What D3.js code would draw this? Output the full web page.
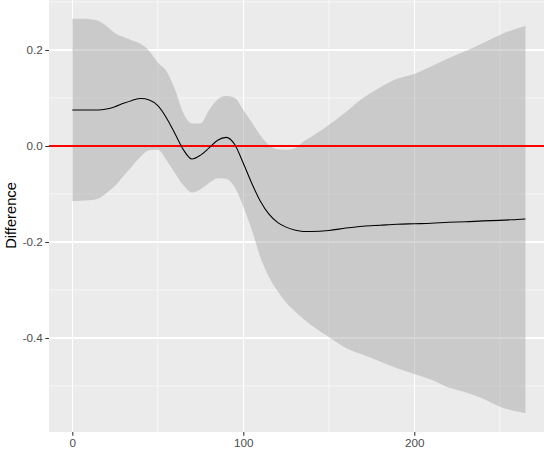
<!DOCTYPE html>
<html>
<head>
<meta charset="utf-8">
<script src="https://cdn.jsdelivr.net/npm/d3@7"></script>
<style>
  html, body { margin: 0; padding: 0; background: #ffffff; }
  svg { display: block; }
</style>
</head>
<body>
<svg id="chart" width="544" height="453"></svg>
<script>
// ---- Data ----
const xValues = [0,5,10,15,20,25,30,35,40,45,50,55,60,65,70,75,80,85,90,95,100,105,110,115,120,125,130,135,140,150,160,170,180,190,200,210,220,230,240,250,260,265];
const upperValues = [0.265,0.265,0.264,0.261,0.250,0.235,0.227,0.220,0.213,0.198,0.174,0.156,0.118,0.068,0.047,0.047,0.075,0.097,0.104,0.100,0.075,0.049,0.022,0.002,-0.007,-0.008,-0.005,0.009,0.020,0.044,0.071,0.100,0.122,0.140,0.150,0.166,0.183,0.198,0.214,0.231,0.245,0.250];
const lowerValues = [-0.115,-0.114,-0.113,-0.110,-0.098,-0.083,-0.062,-0.042,-0.022,-0.009,-0.008,-0.029,-0.056,-0.082,-0.097,-0.090,-0.077,-0.067,-0.068,-0.086,-0.126,-0.175,-0.232,-0.273,-0.302,-0.326,-0.344,-0.360,-0.374,-0.398,-0.421,-0.435,-0.449,-0.463,-0.475,-0.487,-0.503,-0.513,-0.526,-0.543,-0.553,-0.556];
const fitValues = [0.075,0.075,0.075,0.075,0.077,0.082,0.089,0.095,0.099,0.096,0.084,0.059,0.026,-0.008,-0.027,-0.019,-0.004,0.012,0.018,0.003,-0.036,-0.078,-0.115,-0.142,-0.159,-0.169,-0.175,-0.178,-0.178,-0.176,-0.171,-0.167,-0.165,-0.163,-0.162,-0.161,-0.159,-0.158,-0.156,-0.155,-0.153,-0.152];
const referenceLine = 0;

const xTickValues = [0, 100, 200];
const xTickLabels = ["0", "100", "200"];
const xMinorValues = [50, 150, 250];
const yTickValues = [-0.4, -0.2, 0, 0.2];
const yTickLabels = ["-0.4", "-0.2", "0.0", "0.2"];
const yMinorValues = [-0.5, -0.3, -0.1, 0.1, 0.3];
const yTitle = "Difference";

// ---- Layout ----
const panel = { left: 49, right: 544, top: -1, bottom: 432 };
const x = d3.scaleLinear().domain([0, 100]).range([72.3, 243.3]);
const y = d3.scaleLinear().domain([0, 0.2]).range([146, 50]);

const svg = d3.select("#chart");
const rows = xValues.map((v, i) => ({ x: v, lo: lowerValues[i], hi: upperValues[i], fit: fitValues[i] }));

svg.append("defs").append("clipPath").attr("id", "clip")
  .append("rect").attr("x", panel.left).attr("y", panel.top)
  .attr("width", panel.right - panel.left).attr("height", panel.bottom - panel.top);

// panel background
svg.append("rect")
  .attr("x", panel.left).attr("y", panel.top)
  .attr("width", panel.right - panel.left).attr("height", panel.bottom - panel.top)
  .attr("fill", "#EBEBEB");

const grid = svg.append("g").attr("clip-path", "url(#clip)");
// minor grid
grid.selectAll("line.xminor").data(xMinorValues).enter().append("line")
  .attr("x1", d => x(d)).attr("x2", d => x(d)).attr("y1", panel.top).attr("y2", panel.bottom)
  .attr("stroke", "#ffffff").attr("stroke-width", 0.6);
grid.selectAll("line.yminor").data(yMinorValues).enter().append("line")
  .attr("y1", d => y(d)).attr("y2", d => y(d)).attr("x1", panel.left).attr("x2", panel.right)
  .attr("stroke", "#ffffff").attr("stroke-width", 0.6);
// major grid
grid.selectAll("line.xmajor").data(xTickValues).enter().append("line")
  .attr("x1", d => x(d)).attr("x2", d => x(d)).attr("y1", panel.top).attr("y2", panel.bottom)
  .attr("stroke", "#ffffff").attr("stroke-width", 1.07).attr("shape-rendering", "crispEdges");
grid.selectAll("line.ymajor").data(yTickValues).enter().append("line")
  .attr("y1", d => y(d)).attr("y2", d => y(d)).attr("x1", panel.left).attr("x2", panel.right)
  .attr("stroke", "#ffffff").attr("stroke-width", 1.07).attr("shape-rendering", "crispEdges");

const plot = svg.append("g").attr("clip-path", "url(#clip)");

// ribbon
const area = d3.area()
  .x(d => x(d.x)).y0(d => y(d.lo)).y1(d => y(d.hi))
  .curve(d3.curveMonotoneX);
plot.append("path").datum(rows)
  .attr("d", area)
  .attr("fill", "#999999").attr("fill-opacity", 0.4);

// reference line
plot.append("line")
  .attr("x1", panel.left).attr("x2", panel.right)
  .attr("y1", y(referenceLine)).attr("y2", y(referenceLine))
  .attr("stroke", "#FF0000").attr("stroke-width", 1.5).attr("shape-rendering", "crispEdges");

// fit line
const line = d3.line().x(d => x(d.x)).y(d => y(d.fit)).curve(d3.curveMonotoneX);
plot.append("path").datum(rows)
  .attr("d", line)
  .attr("fill", "none").attr("stroke", "#000000").attr("stroke-width", 1.07);

// axes
const xAxis = d3.axisBottom(x).tickValues(xTickValues)
  .tickFormat((d, i) => xTickLabels[i]).tickSize(3.7).tickPadding(2.5);
const gx = svg.append("g").attr("transform", `translate(0,${panel.bottom})`).call(xAxis);
gx.select(".domain").remove();
gx.selectAll(".tick line").attr("stroke", "#333333").attr("stroke-width", 1.07);
gx.selectAll(".tick text").attr("fill", "#4D4D4D")
  .style("font-family", "'Liberation Sans', Arial, sans-serif").style("font-size", "11.7px");

const yAxis = d3.axisLeft(y).tickValues(yTickValues)
  .tickFormat((d, i) => yTickLabels[i]).tickSize(3.7).tickPadding(2.5);
const gy = svg.append("g").attr("transform", `translate(${panel.left},0)`).call(yAxis);
gy.select(".domain").remove();
gy.selectAll(".tick line").attr("stroke", "#333333").attr("stroke-width", 1.07);
gy.selectAll(".tick text").attr("fill", "#4D4D4D")
  .style("font-family", "'Liberation Sans', Arial, sans-serif").style("font-size", "11.7px");

// y title
svg.append("text")
  .attr("transform", `translate(15.5,${(panel.top + panel.bottom) / 2}) rotate(-90)`)
  .attr("text-anchor", "middle")
  .attr("fill", "#000000")
  .style("font-family", "'Liberation Sans', Arial, sans-serif").style("font-size", "14.7px")
  .text(yTitle);
</script>
</body>
</html>
